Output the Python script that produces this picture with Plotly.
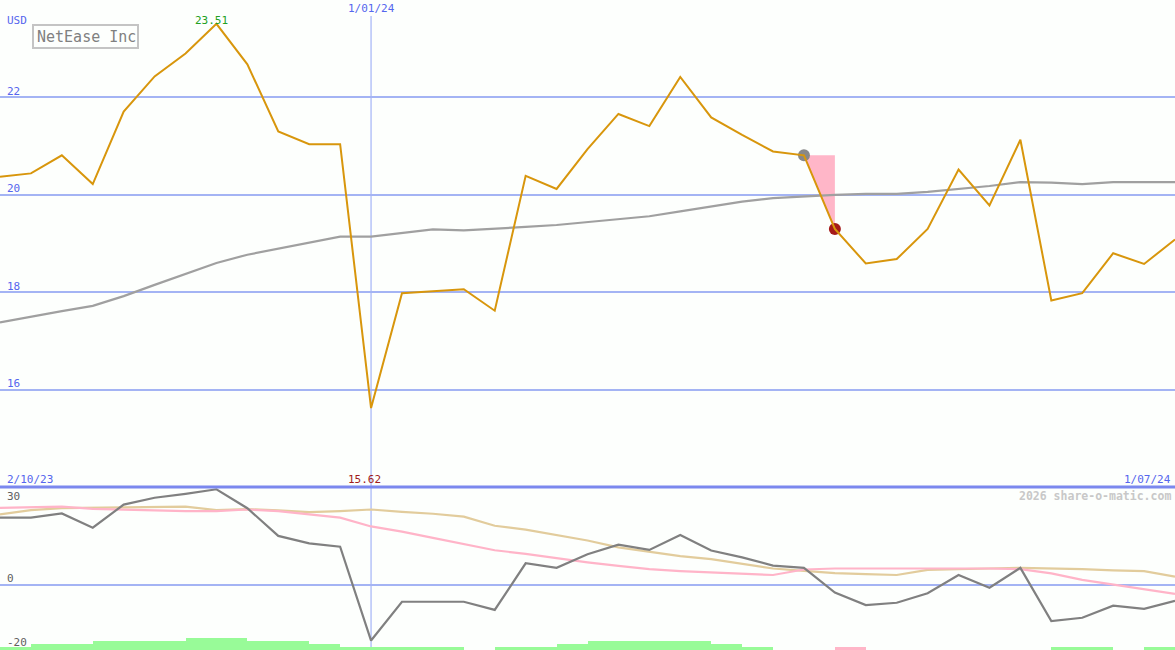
import plotly.graph_objects as go

# ---- data (weekly, 9 Oct 2023 .. 1 Jul 2024) ----
week_index = list(range(39))
price = [20.37, 20.44, 20.81, 20.22, 21.71, 22.43, 22.90, 23.51, 22.68, 21.30,
         21.04, 21.04, 15.62, 17.98, 18.02, 18.06, 17.62, 20.39, 20.12, 20.94,
         21.66, 21.41, 22.42, 21.59, 21.23, 20.89, 20.81, 19.30, 18.59, 18.68,
         19.30, 20.52, 19.78, 21.13, 17.83, 17.98, 18.80, 18.58, 19.08]
moving_avg = [17.38, 17.50, 17.61, 17.72, 17.92, 18.15, 18.38, 18.60, 18.77, 18.89,
              19.01, 19.14, 19.14, 19.21, 19.29, 19.27, 19.30, 19.34, 19.38, 19.44,
              19.50, 19.56, 19.66, 19.76, 19.86, 19.93, 19.97, 20.00, 20.02, 20.02,
              20.06, 20.12, 20.18, 20.26, 20.25, 20.22, 20.26, 20.26, 20.26]
osc_main = [20.6, 20.6, 21.9, 17.5, 24.6, 26.7, 27.9, 29.3, 23.5, 15.0,
            12.7, 11.7, -17.1, -5.2, -5.2, -5.2, -7.7, 6.6, 5.2, 9.4,
            12.3, 10.7, 15.3, 10.5, 8.4, 5.9, 5.2, -2.4, -6.2, -5.5,
            -2.6, 3.0, -0.9, 5.2, -11.1, -10.1, -6.4, -7.4, -4.9]
osc_pink = [23.6, 23.9, 24.0, 23.3, 23.0, 22.8, 22.6, 22.6, 23.1, 22.6,
            21.7, 20.6, 17.9, 16.3, 14.4, 12.5, 10.6, 9.5, 8.1, 6.9,
            5.8, 4.8, 4.2, 3.8, 3.2, 3.0, 4.7, 5.0, 5.0, 5.0,
            5.2, 5.2, 5.0, 4.8, 3.5, 1.5, 0.0, -1.5, -2.8]
osc_tan = [21.6, 22.9, 23.5, 23.6, 23.7, 23.9, 24.0, 22.9, 23.2, 22.8,
           22.3, 22.6, 23.1, 22.4, 21.8, 20.9, 18.1, 16.9, 15.2, 13.6,
           11.5, 10.1, 8.8, 7.9, 6.5, 5.0, 4.3, 3.6, 3.3, 3.0,
           4.6, 4.9, 5.0, 5.2, 5.1, 4.8, 4.4, 4.2, 2.5]
# signal bars between consecutive weeks (positive = green, negative = pink)
signal = [0.9, 1.9, 1.9, 2.8, 2.8, 2.8, 3.7, 3.7, 2.8, 2.8,
          1.9, 0.9, 0.9, 0.9, 0.9, 0, 0.9, 0.9, 1.9, 2.8,
          2.8, 2.8, 2.8, 1.9, 0.9, 0, 0, -0.9, 0, 0,
          0, 0, 0, 0, 0.9, 0.9, 0, 0.9]
price_ticks = [16, 18, 20, 22]
osc_ticks = [30, 0, -20]
start_label, mid_label, end_label = "2/10/23", "1/01/24", "1/07/24"
mid_index = 12
hi_index, lo_index = 7, 12
cross_from, cross_to = 26, 27

W, H = 1175, 650
split = 487  # pixel row of panel divider
BG = "#FDFFFD"
GRID = "#A4B4F4"
BLUE = "#5566EE"
FONT = "DejaVu Sans Mono"

fig = go.Figure()

# pink shaded triangle at the cross
fig.add_trace(go.Scatter(
    x=[cross_from, cross_to, cross_to, cross_from],
    y=[price[cross_from], price[cross_from], price[cross_to], price[cross_from]],
    fill="toself", fillcolor="#FFB6C8", line=dict(width=0), mode="lines",
    hoverinfo="skip", xaxis="x", yaxis="y"))
fig.add_trace(go.Scatter(x=week_index, y=moving_avg, mode="lines",
                         line=dict(color="#A0A0A0", width=2.2), xaxis="x", yaxis="y"))
fig.add_trace(go.Scatter(x=[cross_from], y=[price[cross_from]], mode="markers",
                         marker=dict(color="#888888", size=12), xaxis="x", yaxis="y"))
fig.add_trace(go.Scatter(x=[cross_to], y=[price[cross_to]], mode="markers",
                         marker=dict(color="#A51A1A", size=12), xaxis="x", yaxis="y"))
fig.add_trace(go.Scatter(x=week_index, y=price, mode="lines",
                         line=dict(color="#D8960C", width=2), xaxis="x", yaxis="y"))

# bottom panel
fig.add_trace(go.Bar(
    x=[k + 0.5 for k in range(len(signal))], y=[abs(s) for s in signal], base=-20,
    width=1, marker=dict(color=["#98FB98" if s >= 0 else "#FFB6C8" for s in signal],
                         line=dict(width=0)),
    xaxis="x2", yaxis="y2"))
fig.add_trace(go.Scatter(x=week_index, y=osc_tan, mode="lines",
                         line=dict(color="#E2CC9C", width=2.2), xaxis="x2", yaxis="y2"))
fig.add_trace(go.Scatter(x=week_index, y=osc_pink, mode="lines",
                         line=dict(color="#FFB4C8", width=2.2), xaxis="x2", yaxis="y2"))
fig.add_trace(go.Scatter(x=week_index, y=osc_main, mode="lines",
                         line=dict(color="#808080", width=2.2), xaxis="x2", yaxis="y2"))

top_dom = [1 - split / H, 1]
bot_dom = [0, 1 - split / H]
fig.update_layout(
    width=W, height=H, margin=dict(l=0, r=0, t=0, b=0),
    paper_bgcolor=BG, plot_bgcolor=BG, showlegend=False, bargap=0,
    xaxis=dict(domain=[0, 1], range=[0, 38], showgrid=False, zeroline=False,
               showticklabels=False, fixedrange=True),
    yaxis=dict(domain=top_dom, range=[14, 24], tickvals=price_ticks, showgrid=True,
               gridcolor=GRID, gridwidth=2, zeroline=False, showticklabels=False),
    xaxis2=dict(domain=[0, 1], range=[0, 38], anchor="y2", showgrid=False,
                zeroline=False, showticklabels=False),
    yaxis2=dict(domain=bot_dom, range=[-20, 30], anchor="x2", tickvals=[0],
                showgrid=True, gridcolor=GRID, gridwidth=2, zeroline=False,
                showticklabels=False),
)

def px(xp):
    return xp / W

def py(yp):
    return 1 - yp / H

shapes = [
    dict(type="line", xref="x", yref="paper", x0=mid_index, x1=mid_index,
         y0=py(16), y1=0, line=dict(color="#A4B4F8", width=1.2), layer="below"),
    dict(type="line", xref="paper", yref="paper", x0=0, x1=1, y0=py(split), y1=py(split),
         line=dict(color="#7B88EE", width=3)),
    dict(type="rect", xref="paper", yref="paper", x0=px(33), x1=px(138), y0=py(25),
         y1=py(48), line=dict(color="#C4C4C4", width=2), fillcolor=BG),
]
fig.update_layout(shapes=shapes)

ann = []
def label(text, x, y, color, size=11, xanchor="left", bold=False):
    ann.append(dict(text=("<b>%s</b>" % text) if bold else text, x=px(x), y=py(y),
                    xref="paper", yref="paper", xanchor=xanchor, yanchor="middle",
                    showarrow=False, font=dict(family=FONT, size=size, color=color)))

label("USD", 5, 21, BLUE)
for t in price_ticks:
    ypix = (24 - t) / 10 * split
    label(str(t), 5, ypix - 6, BLUE)
label("NetEase Inc", 35, 37, "#808080", size=15)
label("%.2f" % price[hi_index], hi_index * W / 38 - 5, 21, "#22A022", xanchor="center")
label(mid_label, mid_index * W / 38, 9, BLUE, xanchor="center")
label(start_label, 5, 479, BLUE)
label("%.2f" % price[lo_index], lo_index * W / 38 - 7, 479, "#A01C1C", xanchor="center")
label(end_label, 1173, 479, BLUE, xanchor="right")
label("2026 share-o-matic.com", 1173, 496, "#C8C8C8", size=11.5, xanchor="right", bold=True)
for t, ypix in zip(osc_ticks, [496, 578, 642]):
    label(str(t), 5, ypix, "#606060")
fig.update_layout(annotations=ann)

fig.write_html("out.html", config={"displayModeBar": False},
               post_script="document.body.style.margin='0';document.body.style.padding='0';")
